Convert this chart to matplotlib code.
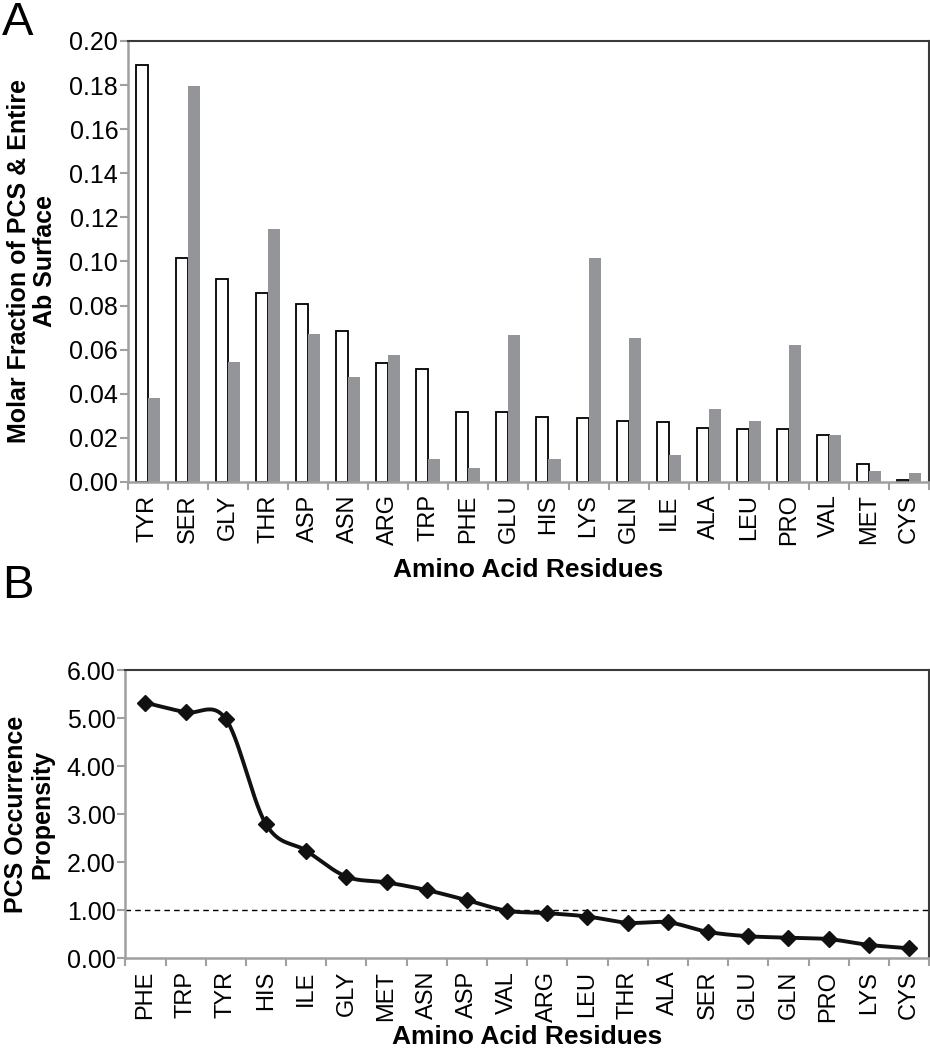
import numpy as np
import matplotlib
matplotlib.use("Agg")
import matplotlib.pyplot as plt
from matplotlib.ticker import FixedLocator, FormatStrFormatter

plt.rcParams['font.family'] = ['Liberation Sans', 'DejaVu Sans']

# panel A data
residues_a = ['TYR', 'SER', 'GLY', 'THR', 'ASP', 'ASN', 'ARG', 'TRP', 'PHE', 'GLU',
              'HIS', 'LYS', 'GLN', 'ILE', 'ALA', 'LEU', 'PRO', 'VAL', 'MET', 'CYS']
pcs_fraction = [0.189, 0.1017, 0.0922, 0.0856, 0.0809, 0.0685, 0.0541, 0.0514, 0.0316, 0.0316,
                0.0293, 0.0289, 0.0275, 0.0271, 0.0245, 0.0242, 0.0242, 0.0215, 0.0082, 0.0009]
surface_fraction = [0.0382, 0.1797, 0.0546, 0.1149, 0.067, 0.0478, 0.0575, 0.0103, 0.0062, 0.0667,
                    0.0106, 0.1017, 0.0652, 0.0124, 0.033, 0.0278, 0.0621, 0.0215, 0.0051, 0.0039]

# panel B data
residues_b = ['PHE', 'TRP', 'TYR', 'HIS', 'ILE', 'GLY', 'MET', 'ASN', 'ASP', 'VAL',
              'ARG', 'LEU', 'THR', 'ALA', 'SER', 'GLU', 'GLN', 'PRO', 'LYS', 'CYS']
propensity = [5.32, 5.12, 4.98, 2.79, 2.24, 1.70, 1.58, 1.42, 1.21, 0.99,
              0.94, 0.87, 0.74, 0.75, 0.55, 0.46, 0.43, 0.40, 0.28, 0.21]

GRAY_AX = '#a0a0a0'
DARK_AX = '#3a3a3a'
BAR_GRAY = '#939598'


def smooth_curve(x, y, n=30):
    # excel-like smoothed line (catmull-rom bezier)
    x = np.asarray(x, float)
    y = np.asarray(y, float)
    pts = np.column_stack([x, y])
    out = []
    for i in range(len(pts) - 1):
        p0 = pts[i - 1] if i > 0 else pts[i]
        p1 = pts[i]
        p2 = pts[i + 1]
        p3 = pts[i + 2] if i + 2 < len(pts) else pts[i + 1]
        c1 = p1 + (p2 - p0) / 6
        c2 = p2 - (p3 - p1) / 6
        t = np.linspace(0, 1, n)[:, None]
        seg = ((1 - t) ** 3 * p1 + 3 * (1 - t) ** 2 * t * c1
               + 3 * (1 - t) * t ** 2 * c2 + t ** 3 * p2)
        out.append(seg if i == 0 else seg[1:])
    seg = np.vstack(out)
    return seg[:, 0], seg[:, 1]


def style_axes(ax, labels, xlabelpad):
    n = len(labels)
    ax.set_xlim(-0.5, n - 0.5)
    ax.xaxis.set_major_locator(FixedLocator(np.arange(n + 1) - 0.5))
    ax.xaxis.set_minor_locator(FixedLocator(np.arange(n)))
    ax.set_xticklabels([], minor=False)
    ax.set_xticklabels(labels, minor=True, rotation=90, fontsize=17)
    ax.tick_params(axis='x', which='major', direction='out', length=6, width=1.5, color=GRAY_AX)
    ax.tick_params(axis='x', which='minor', length=0, pad=9)
    ax.tick_params(axis='y', direction='out', length=6, width=1.5, color=GRAY_AX,
                   labelsize=18, pad=1)
    for side in ['left', 'bottom']:
        ax.spines[side].set_color(GRAY_AX)
        ax.spines[side].set_linewidth(1.8)
    for side in ['top', 'right']:
        ax.spines[side].set_color(DARK_AX)
        ax.spines[side].set_linewidth(1.5)
    ax.yaxis.set_major_formatter(FormatStrFormatter('%.2f'))
    ax.set_xlabel('Amino Acid Residues', fontsize=19, fontweight='bold', labelpad=xlabelpad)


fig = plt.figure(figsize=(9.3, 10.5), dpi=100)

# ---- panel A ----
ax1 = fig.add_axes([0.1376, 0.541, 0.8613, 0.42])
x = np.arange(len(residues_a))
w = 0.3
ax1.bar(x - w / 2, pcs_fraction, w, color='white', edgecolor='black', linewidth=1.3, zorder=2)
ax1.bar(x + w / 2, surface_fraction, w, color=BAR_GRAY, edgecolor='none', zorder=2)
ax1.set_ylim(0, 0.20)
ax1.set_yticks(np.arange(0, 0.201, 0.02))
style_axes(ax1, residues_a, 9)
ax1.set_ylabel('Molar Fraction of PCS & Entire\nAb Surface', fontsize=18,
               fontweight='bold', labelpad=9, linespacing=1.1)
fig.text(0.002, 0.999, 'A', fontsize=34, va='top', ha='left')

# ---- panel B ----
ax2 = fig.add_axes([0.1348, 0.0873, 0.8642, 0.2746])
xb = np.arange(len(residues_b))
sx, sy = smooth_curve(xb, propensity)
ax2.plot(sx, sy, color='#111111', linewidth=2.8, zorder=3, solid_capstyle='round')
ax2.plot(xb, propensity, linestyle='none', marker='D', markersize=8,
         color='#111111', zorder=4)
ax2.axhline(1.0, color='black', linestyle=(0, (4, 3)), linewidth=1.0, zorder=2)
ax2.set_ylim(0, 6)
ax2.set_yticks(np.arange(0, 6.01, 1.0))
style_axes(ax2, residues_b, 2)
ax2.set_ylabel('PCS Occurrence\nPropensity', fontsize=18, fontweight='bold',
               labelpad=9, linespacing=1.1)
fig.text(0.002, 0.463, 'B', fontsize=34, va='top', ha='left')

fig.savefig('out.png', dpi=100)
